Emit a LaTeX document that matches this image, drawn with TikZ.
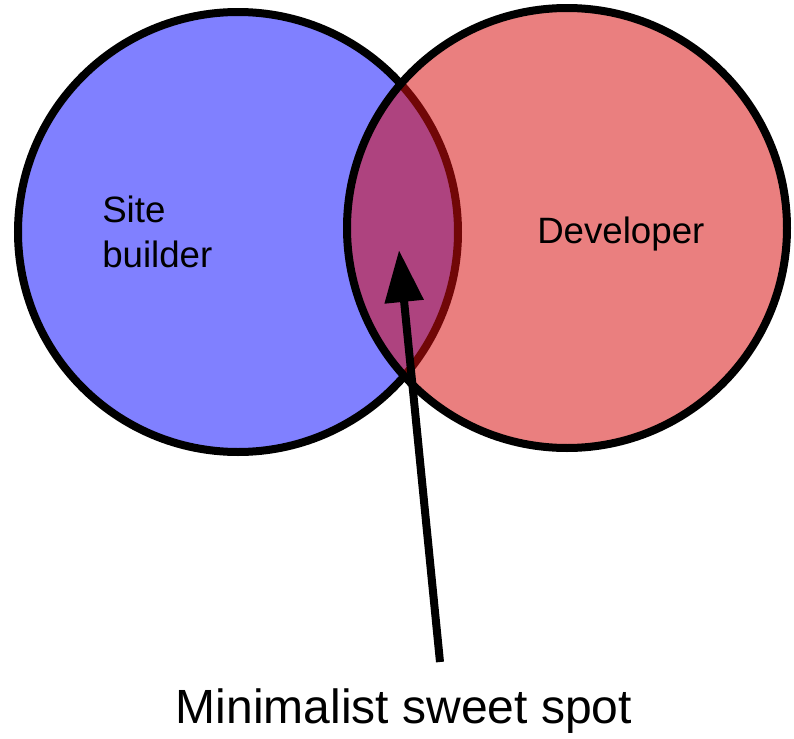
\documentclass[tikz,border=0pt]{standalone}
\usepackage{fontspec}
\setmainfont{Liberation Sans}
\usetikzlibrary{positioning,arrows.meta}
\definecolor{siteblue}{RGB}{128,128,255}
\definecolor{devred}{RGB}{215,14,14}

\begin{document}
\begin{tikzpicture}[x=0.75pt,y=-0.75pt]
\tikzset{
  venn/.style={circle,draw=black,line width=6pt,minimum size=330pt,inner sep=0pt},
  label/.style={font=\fontsize{27.5}{33.75}\selectfont,inner sep=0pt}
}
\useasboundingbox (0,0) rectangle (794,739);
% Circles
\node[venn,fill=siteblue] (site) at (238,232) {};
\node[venn,fill=devred,fill opacity=0.53] (dev) at (567,228) {};
% Labels
\node[label,align=left,anchor=north west] (sitetxt) at (102,196) {Site\\builder};
\node[label,anchor=base west] (devtxt) at (537,243) {Developer};
\node[font=\fontsize{36}{43}\selectfont,inner sep=0pt,anchor=base] (spot) at (404,723) {Minimalist sweet spot};
% Arrow
\coordinate (tail) at (440,662);
\coordinate (tip) at (399,250);
\draw[line width=6pt,-{Triangle[length=39pt,width=28pt]}] (tail) -- (tip);
\end{tikzpicture}
\end{document}
